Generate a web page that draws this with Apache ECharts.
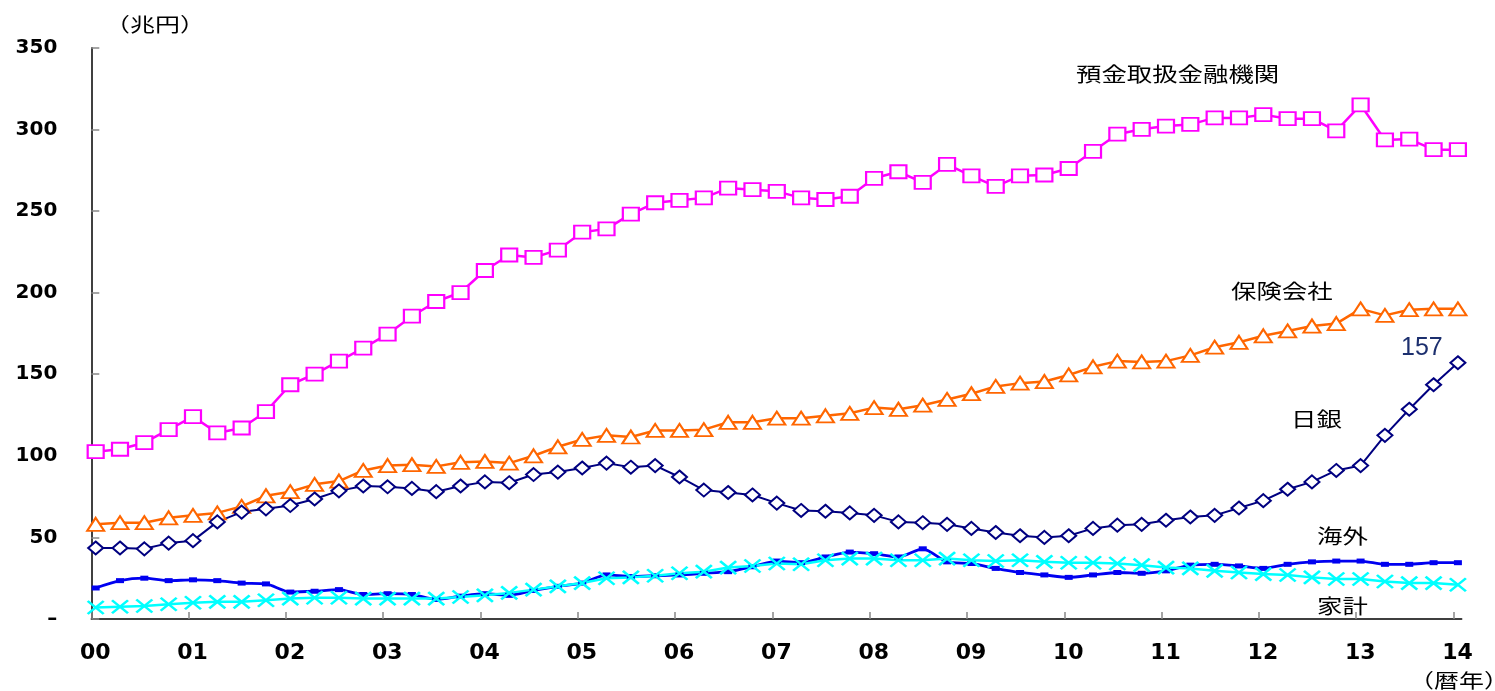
<!DOCTYPE html>
<html><head><meta charset="utf-8">
<script src="https://cdn.jsdelivr.net/npm/echarts@6/dist/echarts.min.js"></script>
<style>html,body{margin:0;padding:0;background:#fff}#c{width:1495px;height:691px}</style>
</head><body><div id="c"></div>
<script>
// Quarterly observations 2000Q1 .. 2014Q1 (57 points)
const quarters = [
 '00Q1','00Q2','00Q3','00Q4','01Q1','01Q2','01Q3','01Q4','02Q1','02Q2','02Q3','02Q4',
 '03Q1','03Q2','03Q3','03Q4','04Q1','04Q2','04Q3','04Q4','05Q1','05Q2','05Q3','05Q4',
 '06Q1','06Q2','06Q3','06Q4','07Q1','07Q2','07Q3','07Q4','08Q1','08Q2','08Q3','08Q4',
 '09Q1','09Q2','09Q3','09Q4','10Q1','10Q2','10Q3','10Q4','11Q1','11Q2','11Q3','11Q4',
 '12Q1','12Q2','12Q3','12Q4','13Q1','13Q2','13Q3','13Q4','14Q1'];
const yearLabels = ['00','01','02','03','04','05','06','07','08','09','10','11','12','13','14'];

// 預金取扱金融機関
const depository = [102.5,104,108,116,124,114,117,127,143.5,150,158,166,174.5,185.5,194.5,200,
 213.5,223,221.5,226,237,239,248,255,256.5,258,264,263,262,258,257,259,270,274,267.5,278.5,
 271.5,265,271.5,272,276,286.5,297,300,302,303,307,307,309,306.5,306.5,299,315,293.5,294,287.5,287.5];
// 保険会社
const insurance = [58,59,59,62,63.5,65,69,75.5,78,82.5,84.5,91,94,94.5,93.5,96,96.5,95.5,100,105.5,
 110,112.5,111.5,115.5,115.5,116,120.5,120.5,123,123,124.5,126,129.5,128.5,131,134.5,138,142.5,
 144.5,145.5,149.5,154.5,158,157.5,158,161.5,166.5,169.5,173.5,176.5,179.5,181,190,186,189.5,190,190];
// 日銀
const boj = [43.5,43.5,43,46.5,48,59.5,65.5,67.5,69.5,73.5,78.5,81.5,81,80,78,81.5,84,83.5,88.5,90,
 92.5,95.5,93,94,87,79,77.5,76,71,66.5,66,65,63.5,59.5,59,58,55.5,53,51,50,51,55.5,57.5,58,60.5,
 62.5,63.5,68,72.5,79.5,84,91,94,112.5,128.5,143.5,157];
// 海外
const overseas = [19,23.5,25,23.5,24,23.5,22,21.5,16.5,17,18,15,15.5,15,12,14,15.5,14.5,17.5,20,
 22,27,26,26.5,27,28,29,32,35.5,34.5,38,41,40,38,43,35,34,31,28.5,27,25.5,27,28.5,28,29.5,33,33.5,
 32.5,31,33.5,35,35.5,35.5,33.5,33.5,34.5,34.5];
// 家計
const households = [7,7.5,8,9,10,10.5,10.5,11.5,12.5,13,13,12.5,12.5,12.5,12.5,13.5,14.5,16,18,20,
 22,25,25.5,26.5,28,29,31.5,32.5,34,33.5,36,37,37,36,36,37,36,35.5,36,35,34.5,34.5,34,33,31.5,31,
 29.5,28.5,27.5,27,25.5,24.5,24.5,23,22,22,21];

const Q_OFFSET = 0.045; // each quarterly point sits slightly after its year tick
function toPoints(arr){ return arr.map((v,i)=>[i/4 + Q_OFFSET, v]); }
const yearTickValues = yearLabels.map((_, i) => i);

const chart = echarts.init(document.getElementById('c'), null, {renderer:'canvas'});
const cjk = '"Noto Sans CJK JP", sans-serif';

function lbl(text, x, y, size, sx, color, family){
  return {type:'text', x:x, y:y, scaleX:sx, silent:true,
    style:{text:text, fontSize:size, fontFamily:family||cjk, fill:color||'#000', align:'left', verticalAlign:'middle'}};
}

const bojPts = toPoints(boj);
const lastIdx = bojPts.length - 1;
const bojData = bojPts.map((p,i)=> i===lastIdx ? {value:p, label:{show:true, position:'inside', offset:[-36,-15],
  formatter:(d)=>String(d.value[1]), fontFamily:'"Liberation Sans", Arial, sans-serif', fontSize:25, color:'#1c2f6e'}} : p);

chart.setOption({
  animation:false,
  backgroundColor:'#fff',
  grid:{left:91.3, right:33.3, top:47.7, bottom:72},
  xAxis:{type:'value', min:0, max:14.084, interval:1,
    axisLine:{show:true, lineStyle:{color:'#000', width:1.5}},
    axisTick:{show:true, inside:true, length:7, lineStyle:{color:'#888', width:1.5}, customValues:yearTickValues},
    axisLabel:{customValues:yearTickValues, formatter:(v)=>yearLabels[Math.round(v)],
      fontFamily:'"DejaVu Sans", sans-serif', fontWeight:'bold', fontSize:22, color:'#000', margin:23, padding:[0,0,0,8]},
    splitLine:{show:false}},
  yAxis:{type:'value', min:0, max:350, interval:50,
    axisLine:{show:true, lineStyle:{color:'#000', width:1.5}},
    axisTick:{show:true, inside:true, length:8, lineStyle:{color:'#888', width:1.5}},
    axisLabel:{formatter:(v)=> v===0 ? '–' : String(v), fontFamily:'"DejaVu Sans", sans-serif', fontWeight:'bold', fontSize:20, color:'#000', margin:34},
    splitLine:{show:false}},
  series:[
    {name:'預金取扱金融機関', type:'line', data:toPoints(depository), showAllSymbol:true,
     symbol:'rect', symbolSize:[16,13], lineStyle:{color:'#FF00FF', width:2.5},
     itemStyle:{color:'#fff', borderColor:'#FF00FF', borderWidth:2}, emphasis:{disabled:true}},
    {name:'保険会社', type:'line', data:toPoints(insurance), showAllSymbol:true,
     symbol:'triangle', symbolSize:[17,13], lineStyle:{color:'#FF6600', width:2.5},
     itemStyle:{color:'#fff', borderColor:'#FF6600', borderWidth:2}, emphasis:{disabled:true}},
    {name:'日銀', type:'line', data:bojData, showAllSymbol:true,
     symbol:'diamond', symbolSize:[15,13], lineStyle:{color:'#000080', width:2},
     itemStyle:{color:'#fff', borderColor:'#000080', borderWidth:2}, emphasis:{disabled:true}},
    {name:'海外', type:'line', data:toPoints(overseas), showAllSymbol:true, smooth:0.25,
     symbol:'rect', symbolSize:[8,5], lineStyle:{color:'#0000F0', width:2.8},
     itemStyle:{color:'#0000F0'}, emphasis:{disabled:true}},
    {name:'家計', type:'line', data:toPoints(households), showAllSymbol:true,
     symbol:'path://M0 0L10 10M10 0L0 10', symbolSize:[16,13], lineStyle:{color:'#00FFFF', width:2.5},
     itemStyle:{color:'rgba(0,0,0,0)', borderColor:'#00FFFF', borderWidth:2.5}, emphasis:{disabled:true}}
  ],
  graphic:[
    lbl('（兆円）', 105, 25, 19.5, 1.28),
    lbl('預金取扱金融機関', 1076, 74, 20, 1.27),
    lbl('保険会社', 1231, 291, 20, 1.27),
    lbl('日銀', 1291, 419, 20, 1.27),
    lbl('海外', 1317, 536, 20, 1.27),
    lbl('家計', 1317, 606, 20, 1.27),
    lbl('（暦年）', 1409, 681, 19.5, 1.28)
  ]
});
</script></body></html>
